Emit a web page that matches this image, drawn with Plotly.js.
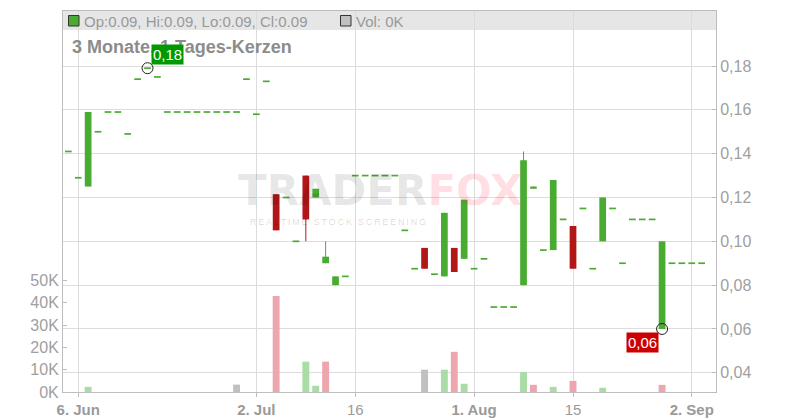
<!DOCTYPE html>
<html><head><meta charset="utf-8">
<script src="https://cdn.plot.ly/plotly-3.0.1.min.js"></script>
<style>html,body{margin:0;padding:0;background:#fff}#chart{width:800px;height:420px}</style>
</head><body><div id="chart"></div>
<script>
// ---- data ----
const dates = [
 "2024-06-05","2024-06-06","2024-06-07","2024-06-10","2024-06-11","2024-06-12","2024-06-13","2024-06-14","2024-06-17","2024-06-18",
 "2024-06-19","2024-06-20","2024-06-21","2024-06-24","2024-06-25","2024-06-26","2024-06-27","2024-06-28",
 "2024-07-01","2024-07-02","2024-07-03","2024-07-04","2024-07-05","2024-07-08","2024-07-09","2024-07-10","2024-07-11","2024-07-12",
 "2024-07-15","2024-07-16","2024-07-17","2024-07-18","2024-07-19","2024-07-22","2024-07-23","2024-07-24","2024-07-25","2024-07-26",
 "2024-07-29","2024-07-30","2024-07-31",
 "2024-08-01","2024-08-02","2024-08-05","2024-08-06","2024-08-07","2024-08-08","2024-08-09","2024-08-12","2024-08-13","2024-08-14",
 "2024-08-15","2024-08-16","2024-08-19","2024-08-20","2024-08-21","2024-08-22","2024-08-23","2024-08-26","2024-08-27","2024-08-28",
 "2024-08-29","2024-08-30","2024-09-02","2024-09-03"
];
const openP = [
 0.141,0.129,0.125,0.150,0.159,0.159,0.149,0.174,0.179,0.175,
 0.159,0.159,0.159,0.159,0.159,0.159,0.159,0.159,
 0.174,0.158,0.173,0.1215,0.120,0.100,0.130,0.120,0.090,0.080,
 0.084,0.130,0.130,0.130,0.130,0.130,0.105,0.0875,0.097,0.085,
 0.084,0.097,0.092,
 0.0875,0.092,0.070,0.070,0.070,0.080,0.124,0.096,0.096,0.110,
 0.107,0.115,0.0875,0.100,0.115,0.090,0.110,0.110,0.110,0.060,
 0.090,0.090,0.090,0.090
];
const highP = [
 0.141,0.129,0.159,0.150,0.159,0.159,0.149,0.174,0.179,0.175,
 0.159,0.159,0.159,0.159,0.159,0.159,0.159,0.159,
 0.174,0.158,0.173,0.1215,0.120,0.100,0.130,0.124,0.100,0.084,
 0.084,0.130,0.130,0.130,0.130,0.130,0.105,0.0875,0.097,0.085,
 0.113,0.097,0.119,
 0.0875,0.092,0.070,0.070,0.070,0.141,0.125,0.096,0.128,0.110,
 0.107,0.115,0.0875,0.120,0.115,0.090,0.110,0.110,0.110,0.100,
 0.090,0.090,0.090,0.090
];
const lowP = [
 0.141,0.129,0.125,0.150,0.159,0.159,0.149,0.174,0.179,0.175,
 0.159,0.159,0.159,0.159,0.159,0.159,0.159,0.159,
 0.174,0.158,0.173,0.105,0.120,0.100,0.100,0.120,0.090,0.080,
 0.084,0.130,0.130,0.130,0.130,0.130,0.105,0.0875,0.0875,0.085,
 0.084,0.086,0.092,
 0.0875,0.092,0.070,0.070,0.070,0.080,0.124,0.096,0.096,0.110,
 0.0875,0.115,0.0875,0.100,0.115,0.090,0.110,0.110,0.110,0.060,
 0.090,0.090,0.090,0.090
];
const closeP = [
 0.141,0.129,0.159,0.150,0.159,0.159,0.149,0.174,0.179,0.175,
 0.159,0.159,0.159,0.159,0.159,0.159,0.159,0.159,
 0.174,0.158,0.173,0.105,0.120,0.100,0.110,0.124,0.093,0.084,
 0.084,0.130,0.130,0.130,0.130,0.130,0.105,0.0875,0.0875,0.085,
 0.113,0.086,0.119,
 0.0875,0.092,0.070,0.070,0.070,0.137,0.125,0.096,0.128,0.110,
 0.0875,0.115,0.0875,0.120,0.115,0.090,0.110,0.110,0.110,0.100,
 0.090,0.090,0.090,0.090
];
const volume = [
 0,0,2300,0,0,0,0,0,0,0,
 0,0,0,0,0,0,0,3300,
 0,0,0,43000,0,0,13600,2800,13600,0,
 0,0,0,0,0,0,0,0,10000,0,
 10000,18000,3700,
 0,0,0,0,0,9000,3200,0,2300,0,
 5000,0,0,1900,0,0,0,0,0,3200,
 0,0,0,0
];
const xTickVals = ["2024-06-06","2024-07-02","2024-07-16","2024-08-01","2024-08-15","2024-09-02"];
const xTickText = ["<b>6. Jun</b>","<b>2. Jul</b>","16","<b>1. Aug</b>","15","<b>2. Sep</b>"];
const priceTicks = [0.04,0.06,0.08,0.10,0.12,0.14,0.16,0.18];
const priceTickText = ["0,04","0,06","0,08","0,10","0,12","0,14","0,16","0,18"];
const volTicks = [0,10000,20000,30000,40000,50000];
const volTickText = ["0K","10K","20K","30K","40K","50K"];
const chartTitle = "3 Monate, 1 Tages-Kerzen";

// ---- styles ----
const UP = '#4aab32', DOWN = '#b31616';
const VUP = '#a9dca6', VDOWN = '#eea6ae', VFLAT = '#c0c0c0';
const GRID = '#dcdcdc', AXIS = '#bdbdbd', TXT = '#a0a0a0';
const FONT = 'Arial, "Liberation Sans", sans-serif';

const n = dates.length;
const volColors = volume.map((v, i) => {
  if (i === 0 || closeP[i] === closeP[i-1]) return VFLAT;
  return closeP[i] > closeP[i-1] ? VUP : VDOWN;
});

const cx = [], cBase = [], cH = [], cCol = [], wBase = [], wH = [];
const dx = [], dy = [];
for (let i = 0; i < n; i++) {
  if (openP[i] === closeP[i]) { dx.push(dates[i]); dy.push(closeP[i]); continue; }
  cx.push(dates[i]);
  cBase.push(Math.min(openP[i], closeP[i]));
  cH.push(Math.abs(closeP[i] - openP[i]));
  cCol.push(closeP[i] > openP[i] ? UP : DOWN);
  wBase.push(lowP[i]);
  wH.push(highP[i] - lowP[i]);
}
let iMax = 0, iMin = 0;
for (let i = 0; i < n; i++) { if (highP[i] > highP[iMax]) iMax = i; if (lowP[i] < lowP[iMin]) iMin = i; }

const traces = [
  {type:'bar', x:dates, y:volume, yaxis:'y', width:0.7, marker:{color:volColors, line:{width:0}}},
  {type:'bar', x:cx, base:wBase, y:wH, yaxis:'y2', width:0.1, marker:{color:cCol, line:{width:0}}},
  {type:'bar', x:cx, base:cBase, y:cH, yaxis:'y2', width:0.68, marker:{color:cCol, line:{width:0}}},
  {type:'scatter', mode:'markers', x:dx, y:dy, yaxis:'y2',
   marker:{symbol:'line-ew', size:4.8, color:UP, line:{color:UP, width:1.7}}},
  {type:'scatter', mode:'markers', x:[dates[iMax], dates[iMin]], y:[highP[iMax], lowP[iMin]], yaxis:'y2',
   marker:{symbol:'circle-open', size:11, color:'#222', line:{color:'#222', width:1}}}
];

// pixel -> paper helpers for decorations
const L = 63, T = 11, W = 653, H = 381;
const px = x => (x - L) / W;
const py = y => 1 - (y - T) / H;

const last = n - 1;
const fmt = v => v.toFixed(2);
const legendText = `Op:${fmt(openP[last])}, Hi:${fmt(highP[last])}, Lo:${fmt(lowP[last])}, Cl:${fmt(closeP[last])}`;
const volText = `Vol: ${Math.round(volume[last]/1000)}K`;
const sp = '\u2009';
const subtitle = 'REALTIME STOCK SCREENING'.split('').join(sp);

const layout = {
  width:800, height:420,
  margin:{l:L, r:800-L-W, t:T, b:420-T-H, pad:0},
  paper_bgcolor:'#fff', plot_bgcolor:'#fff',
  showlegend:false, hovermode:false, barmode:'overlay',
  font:{family:FONT, color:TXT},
  xaxis:{type:'category', categoryorder:'array', categoryarray:dates, range:[-0.54, 65.45],
    tickmode:'array', tickvals:xTickVals, ticktext:xTickText,
    showgrid:true, gridcolor:GRID, gridwidth:1, zeroline:false,
    showline:true, linecolor:AXIS, linewidth:1, mirror:true,
    ticks:'outside', ticklen:4, tickcolor:AXIS, tickfont:{size:15, color:'#9a9a9a', family:FONT}},
  yaxis:{range:[0, 170700], side:'left', tickmode:'array', tickvals:volTicks, ticktext:volTickText,
    showgrid:false, zeroline:false, showline:true, linecolor:AXIS, linewidth:1,
    ticks:'inside', ticklen:4, tickcolor:AXIS, tickfont:{size:16, color:TXT, family:FONT}},
  yaxis2:{overlaying:'y', side:'right', range:[0.03124, 0.2051], tickmode:'array',
    tickvals:priceTicks, ticktext:priceTickText,
    showgrid:true, gridcolor:GRID, gridwidth:1, zeroline:false,
    showline:true, linecolor:AXIS, linewidth:1,
    ticks:'inside', ticklen:4, tickcolor:AXIS, tickfont:{size:16, color:TXT, family:FONT}},
  shapes:[
    {type:'rect', xref:'paper', yref:'paper', x0:0, x1:1, y0:py(30), y1:1, fillcolor:'#e6e6e6', line:{width:0}, layer:'below'},
    {type:'rect', xref:'paper', yref:'paper', x0:px(68.5), x1:px(79), y0:py(26), y1:py(15.5), fillcolor:UP, line:{color:'#333', width:1}},
    {type:'rect', xref:'paper', yref:'paper', x0:px(340.5), x1:px(351), y0:py(26), y1:py(15.5), fillcolor:VFLAT, line:{color:'#333', width:1}}
  ],
  annotations:[
    {xref:'paper', yref:'paper', x:px(236), y:py(190.5), xanchor:'left', yanchor:'middle', showarrow:false,
     text:"<span style='color:rgba(0,0,0,0.1)'>TRADER</span><span style='color:rgba(255,0,40,0.13)'>FOX</span>",
     font:{family:'DejaVu Sans', size:42, weight:700}},
    {xref:'paper', yref:'paper', x:px(248), y:py(221.5), xanchor:'left', yanchor:'middle', showarrow:false,
     text:subtitle, font:{family:FONT, size:9, color:'rgba(0,0,0,0.16)'}},
    {xref:'paper', yref:'paper', x:px(70), y:py(47.5), xanchor:'left', yanchor:'middle', showarrow:false,
     text:'<b>'+chartTitle+'</b>', font:{family:FONT, size:18, color:'#8c8c8c'}},
    {xref:'paper', yref:'paper', x:px(82), y:py(21), xanchor:'left', yanchor:'middle', showarrow:false,
     text:legendText, font:{family:FONT, size:15, color:'#999'}},
    {xref:'paper', yref:'paper', x:px(354), y:py(21), xanchor:'left', yanchor:'middle', showarrow:false,
     text:volText, font:{family:FONT, size:15, color:'#999'}},
    {xref:'x', yref:'y2', x:dates[iMax], y:highP[iMax], showarrow:false, xshift:20, yshift:14,
     text:fmt(highP[iMax]).replace('.', ','), bgcolor:'#009900', borderpad:1,
     font:{family:FONT, size:15, color:'#fff'}},
    {xref:'x', yref:'y2', x:dates[iMin], y:lowP[iMin], showarrow:false, xshift:-20, yshift:-14,
     text:fmt(lowP[iMin]).replace('.', ','), bgcolor:'#cc0000', borderpad:1,
     font:{family:FONT, size:15, color:'#fff'}}
  ]
};

Plotly.newPlot('chart', traces, layout, {staticPlot:true, displayModeBar:false});
</script>
</body></html>
